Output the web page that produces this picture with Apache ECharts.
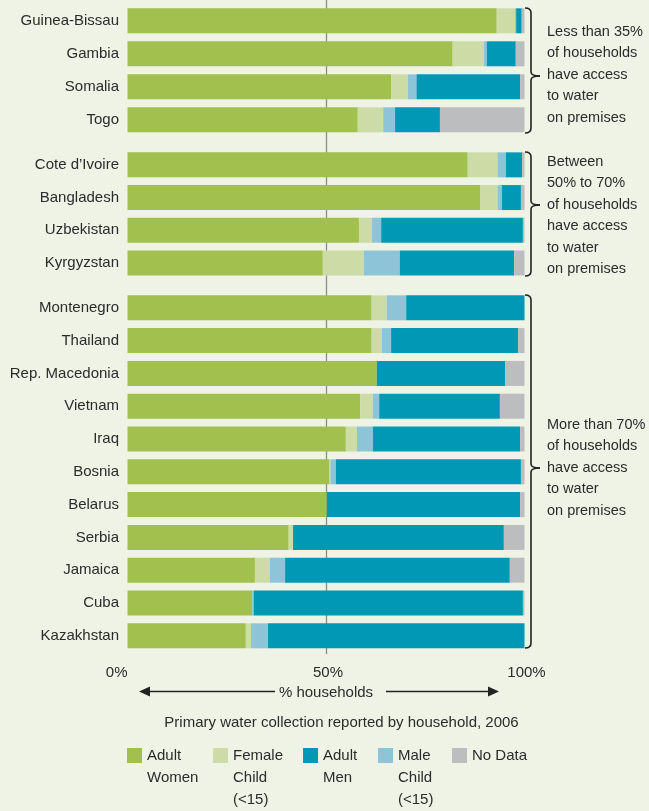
<!DOCTYPE html>
<html><head><meta charset="utf-8">
<script src="https://cdn.jsdelivr.net/npm/echarts@6/dist/echarts.min.js"></script>
<style>html,body{margin:0;padding:0;background:#eff3e6;} #c{width:649px;height:811px;}</style>
</head><body><div id="c"></div>
<script>
// ---- data ----
const countries = ['Guinea-Bissau','Gambia','Somalia','Togo',
  'Cote d\u2019Ivoire','Bangladesh','Uzbekistan','Kyrgyzstan',
  'Montenegro','Thailand','Rep. Macedonia','Vietnam','Iraq','Bosnia','Belarus','Serbia','Jamaica','Cuba','Kazakhstan'];
const groupSizes = [4, 4, 11];
const adultWomen  = [93.0,81.9,66.4,58.0, 85.7,88.8,58.3,49.2, 61.5,61.5,62.8,58.6,55.0,50.9,50.2,40.6,32.1,31.4,29.8];
const femaleChild = [4.6,7.9,4.2,6.4, 7.5,4.4,3.3,10.3, 3.8,2.6,0,3.2,2.8,0.2,0,1.1,3.8,0,1.3];
const maleChild   = [0.3,0.7,2.2,3.0, 2.1,1.1,2.3,9.1, 4.9,2.3,0,1.6,4.0,1.4,0,0,3.8,0.4,4.3];
const adultMen    = [1.4,7.3,26.1,11.3, 4.1,4.8,35.7,28.8, 29.8,32.0,32.3,30.4,37.1,46.6,48.7,53.1,56.6,67.8,64.6];
const noData      = [0.7,2.2,1.1,21.3, 0.6,0.9,0.4,2.6, 0,1.6,4.9,6.2,1.1,0.9,1.1,5.2,3.7,0.4,0];
const xTickValues = [0, 50, 100];
const groupNotes = [
  ['Less than 35%','of households','have access','to water','on premises'],
  ['Between','50% to 70%','of households','have access','to water','on premises'],
  ['More than 70%','of households','have access','to water','on premises']
];
const legendLabels = ['Adult\nWomen','Female\nChild\n(<15)','Adult\nMen','Male\nChild\n(<15)','No Data'];
const titleText = 'Primary water collection reported by household, 2006';
const axisName = '% households';

// ---- styles ----
const FONT = '"Liberation Sans",Arial,sans-serif';
const FS = 15;
const TXT = '#2b2b2b';
const segs = [
  {name:'Adult Women', data: adultWomen, color:'#a1c04e'},
  {name:'Female Child', data: femaleChild, color:'#cddca6'},
  {name:'Male Child', data: maleChild, color:'#8dc4d7'},
  {name:'Adult Men', data: adultMen, color:'#0098b5'},
  {name:'No Data', data: noData, color:'#bcbdbf'}
];
const legendOrder = ['Adult Women','Female Child','Adult Men','Male Child','No Data'];
const legendLeft = [127, 213, 303, 378, 452];

const gridGeo = [
  {top:4.3, height:132},
  {top:148.5, height:130.8},
  {top:291.4, height:360.8}
];
const L = 127.5, W = 397;

const grid = [{left:L, width:W, top:0, height:654}];
const xAxis = [{
  gridIndex:0, type:'value', min:xTickValues[0], max:xTickValues[2], interval:xTickValues[1]-xTickValues[0],
  axisLine:{show:false}, axisTick:{show:false},
  axisLabel:{formatter:'{value}%', fontFamily:FONT, fontSize:FS, color:TXT, margin:11, alignMinLabel:'right', padding:[0,0,0,4]},
  splitLine:{show:true, lineStyle:{color:['rgba(0,0,0,0)','#8c8c8c','rgba(0,0,0,0)'], width:1.3}},
  name: axisName, nameLocation:'middle', nameGap:30,
  nameTextStyle:{fontFamily:FONT, fontSize:FS, color:TXT}
}];
const yAxis = [{gridIndex:0, type:'value', show:false, min:0, max:1}];
const series = [];
let start = 0;
groupSizes.forEach((n, g) => {
  const gi = g + 1;
  grid.push({left:L, width:W, top:gridGeo[g].top, height:gridGeo[g].height});
  xAxis.push({gridIndex:gi, type:'value', min:0, max:100, show:false});
  yAxis.push({
    gridIndex:gi, type:'category', inverse:true, data: countries.slice(start, start+n),
    axisLine:{show:false}, axisTick:{show:false}, splitLine:{show:false},
    axisLabel:{fontFamily:FONT, fontSize:FS, color:TXT, margin:8.5}
  });
  segs.forEach(s => {
    series.push({
      type:'bar', name:s.name, stack:'g'+g, xAxisIndex:gi, yAxisIndex:gi,
      data: s.data.slice(start, start+n), barWidth:25, silent:true,
      itemStyle:{color:s.color}, emphasis:{disabled:true}
    });
  });
  start += n;
});

const LH = 22;
const ICON_TOP = 748;
const legend = legendOrder.map((nm, i) => {
  const lbl = legendLabels[i];
  const n = lbl.split('\n').length;
  const text = '\n'.repeat(n - 1) + lbl;   // first real line sits at icon centre
  return {
    left: legendLeft[i], top: ICON_TOP + 7.5 - (2 * n - 1) * LH / 2,
    padding:0, icon:'rect', itemWidth:15, itemHeight:15, itemGap:4,
    selectedMode:false,
    data:[nm],
    formatter: () => text,
    textStyle:{fontFamily:FONT, fontSize:FS, color:TXT, lineHeight:LH}
  };
});

// decorations
const graphic = [];
const stroke = {stroke:'#222', lineWidth:1.6, fill:null};
function brace(y0, y1, ym) {
  const x = 531, xh = 525, xt = 540;
  return [
    {type:'bezierCurve', shape:{x1:xh,y1:y0,x2:x,y2:y0+5,cpx1:x,cpy1:y0}, style:stroke, silent:true},
    {type:'line', shape:{x1:x,y1:y0+5,x2:x,y2:ym-4}, style:stroke, silent:true},
    {type:'bezierCurve', shape:{x1:x,y1:ym-4,x2:xt,y2:ym,cpx1:x,cpy1:ym}, style:stroke, silent:true},
    {type:'bezierCurve', shape:{x1:xt,y1:ym,x2:x,y2:ym+4,cpx1:x,cpy1:ym}, style:stroke, silent:true},
    {type:'line', shape:{x1:x,y1:ym+4,x2:x,y2:y1-5}, style:stroke, silent:true},
    {type:'bezierCurve', shape:{x1:x,y1:y1-5,x2:xh,y2:y1,cpx1:x,cpy1:y1}, style:stroke, silent:true}
  ];
}
const braces = [[8,133,76,32],[152,276,205,162],[295,648,468,425]];
braces.forEach((b, i) => {
  brace(b[0],b[1],b[2]).forEach(e => graphic.push(e));
  groupNotes[i].forEach((t, k) => {
    graphic.push({type:'text', x:547, y:b[3] + k*21.4, style:{text:t, fontFamily:FONT, fontSize:14.5, fill:TXT, verticalAlign:'middle', align:'left'}, silent:true});
  });
});
const ay = 691.5;
graphic.push({type:'line', shape:{x1:146, y1:ay, x2:275, y2:ay}, style:{stroke:'#222', lineWidth:1.4}, silent:true});
graphic.push({type:'polygon', shape:{points:[[139,ay],[150,ay-5],[150,ay+5]]}, style:{fill:'#222'}, silent:true});
graphic.push({type:'line', shape:{x1:386, y1:ay, x2:492, y2:ay}, style:{stroke:'#222', lineWidth:1.4}, silent:true});
graphic.push({type:'polygon', shape:{points:[[499,ay],[488,ay-5],[488,ay+5]]}, style:{fill:'#222'}, silent:true});

const chart = echarts.init(document.getElementById('c'), null, {renderer:'canvas'});
chart.setOption({
  backgroundColor:'#eff3e6',
  animation:false,
  title:{text:titleText, left:336.5, textAlign:'center', top:710,
    textStyle:{fontFamily:FONT, fontSize:FS, fontWeight:'normal', color:TXT}},
  grid, xAxis, yAxis, series, legend, graphic
});
</script></body></html>
